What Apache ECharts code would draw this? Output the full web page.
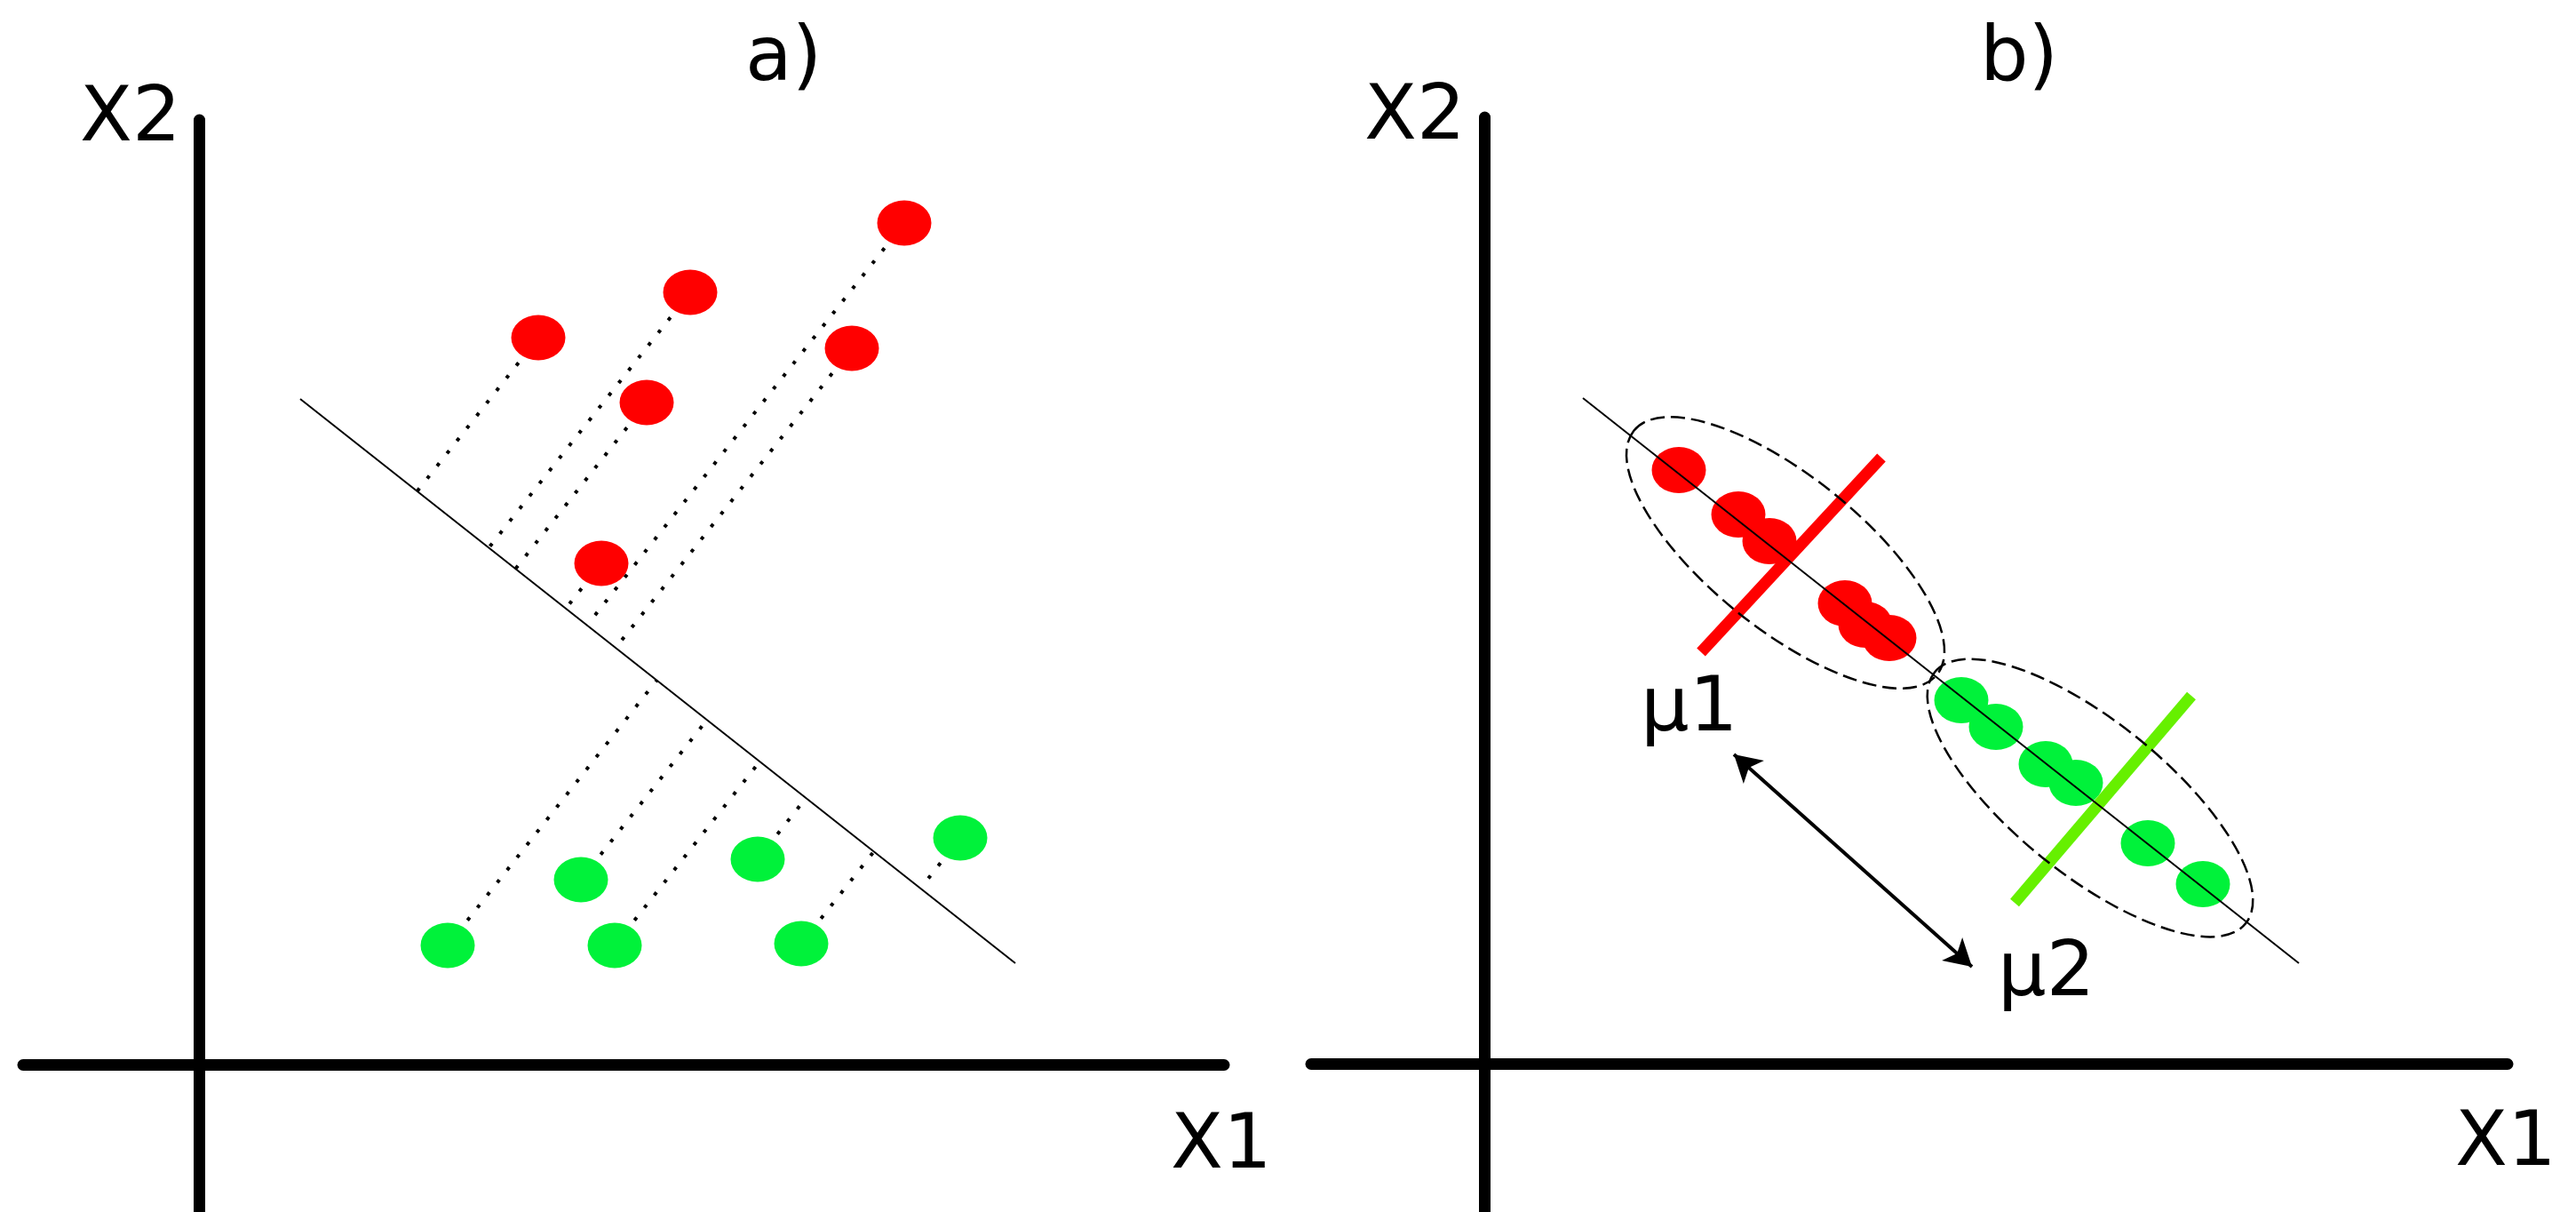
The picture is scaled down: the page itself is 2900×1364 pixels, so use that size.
<!DOCTYPE html>
<html>
<head>
<meta charset="utf-8">
<style>html,body{margin:0;padding:0;background:#fff}#main{width:2900px;height:1364px}</style>
<script src="https://cdn.jsdelivr.net/npm/echarts@6/dist/echarts.min.js"></script>
</head>
<body>
<div id="main"></div>
<script>
// panel a) data, units = 10 px, origin at axes crossing
var redA = [[79.4,94.7],[55.3,86.9],[38.2,81.8],[50.4,74.5],[73.5,80.6],[45.3,56.4]];
var greenA = [[28.0,13.4],[43.0,20.8],[46.8,13.4],[62.9,23.1],[67.8,13.6],[85.7,25.5]];
var lineA = [[11.4,74.9],[91.9,11.4]];
// panel b)
var redB = [[21.9,66.8],[28.6,61.8],[32.1,58.8],[40.6,51.8],[42.9,49.4],[45.6,47.9]];
var greenB = [[53.7,40.9],[57.6,37.9],[63.2,33.7],[66.6,31.6],[74.7,24.8],[80.9,20.2]];
var lineB = [[11.1,74.9],[91.7,11.3]];
var redBar = [[44.7,68.2],[24.4,46.3]];
var greenBar = [[79.6,41.4],[59.7,18.1]];
var arrowB = [[28.1,34.8],[54.9,10.9]];
// cx, cy, semi-major, semi-minor, angle (deg)
var ellipsesB = [[33.9,57.5,21.9,8.6,38.8],[68.2,29.9,22.5,8.6,38.9]];

var myChart = echarts.init(document.getElementById('main'));
var font = 'DejaVu Sans';

// foot of perpendicular from p onto the separating line
function project(p, l) {
    var dx = l[1][0]-l[0][0], dy = l[1][1]-l[0][1];
    var t = ((p[0]-l[0][0])*dx + (p[1]-l[0][1])*dy) / (dx*dx+dy*dy);
    return [l[0][0]+t*dx, l[0][1]+t*dy];
}

var series = [];
redA.concat(greenA).forEach(function(p){
    series.push({type:'line', xAxisIndex:0, yAxisIndex:0, symbol:'none', silent:true,
        data:[p, project(p, lineA)],
        lineStyle:{color:'#000', width:4, type:[4,14]}});
});
series.push({type:'line', xAxisIndex:0, yAxisIndex:0, symbol:'none', data:lineA,
    lineStyle:{color:'#000', width:2}});
series.push({type:'scatter', xAxisIndex:0, yAxisIndex:0, symbolSize:[61,51], data:redA,
    itemStyle:{color:'#ff0000', opacity:1}, z:5});
series.push({type:'scatter', xAxisIndex:0, yAxisIndex:0, symbolSize:[61,51], data:greenA,
    itemStyle:{color:'#00f23a', opacity:1}, z:5});

// panel b
series.push({type:'line', xAxisIndex:1, yAxisIndex:1, symbol:'none', data:lineB,
    lineStyle:{color:'#000', width:2}, z:6});
series.push({type:'scatter', xAxisIndex:1, yAxisIndex:1, symbolSize:[61,52], data:redB,
    itemStyle:{color:'#ff0000', opacity:1}, z:4});
series.push({type:'scatter', xAxisIndex:1, yAxisIndex:1, symbolSize:[61,52], data:greenB,
    itemStyle:{color:'#00f23a', opacity:1}, z:4});
series.push({type:'line', xAxisIndex:1, yAxisIndex:1, symbol:'none', data:redBar,
    lineStyle:{color:'#ff0000', width:13}, z:5});
series.push({type:'line', xAxisIndex:1, yAxisIndex:1, symbol:'none', data:greenBar,
    lineStyle:{color:'#66f000', width:13}, z:5});
series.push({type:'custom', xAxisIndex:1, yAxisIndex:1, data:ellipsesB, z:7,
    renderItem:function(params, api){
        var c = api.coord([api.value(0), api.value(1)]);
        var s = api.size([api.value(2), api.value(3)]);
        return {type:'ellipse', x:c[0], y:c[1], rotation:-api.value(4)*Math.PI/180,
            shape:{cx:0, cy:0, rx:s[0], ry:s[1]},
            style:{fill:'none', stroke:'#000', lineWidth:2.5, lineDash:[16,7]}};
    }});
series.push({type:'line', xAxisIndex:1, yAxisIndex:1, symbol:'none', data:[],
    markLine:{silent:true, symbol:['arrow','arrow'], symbolSize:[26,30], label:{show:false},
        lineStyle:{color:'#000', width:4, type:'solid'},
        data:[[{coord:arrowB[0]},{coord:arrowB[1]}]]}});

function axis(min, max, idx) {
    return {type:'value', gridIndex:idx, min:min, max:max,
        axisLine:{onZero:true, lineStyle:{color:'#000', width:13}},
        axisTick:{show:false}, axisLabel:{show:false}, splitLine:{show:false}};
}

function txt(s, left, top, size) {
    return {text:s, left:left, top:top,
        textStyle:{fontFamily:font, fontWeight:'normal', fontSize:size||86, color:'#000'}};
}

var option = {
    backgroundColor:'#fff',
    animation:false,
    title:[
        txt('a)', 834, 20), txt('X2', 85, 88), txt('X1', 1313, 1244),
        txt('b)', 2224, 20), txt('X2', 1531, 86), txt('X1', 2759, 1241),
        txt('μ1', 1842, 752), txt('μ2', 2244, 1050)
    ],
    grid:[
        {left:26, top:135, width:1352, height:1229},
        {left:1476, top:132, width:1347, height:1232}
    ],
    xAxis:[axis(-19.8, 115.4, 0), axis(-19.5, 115.2, 1)],
    yAxis:[axis(-16.6, 106.3, 0), axis(-16.7, 106.5, 1)],
    series:series
};
myChart.setOption(option);
</script>
</body>
</html>
